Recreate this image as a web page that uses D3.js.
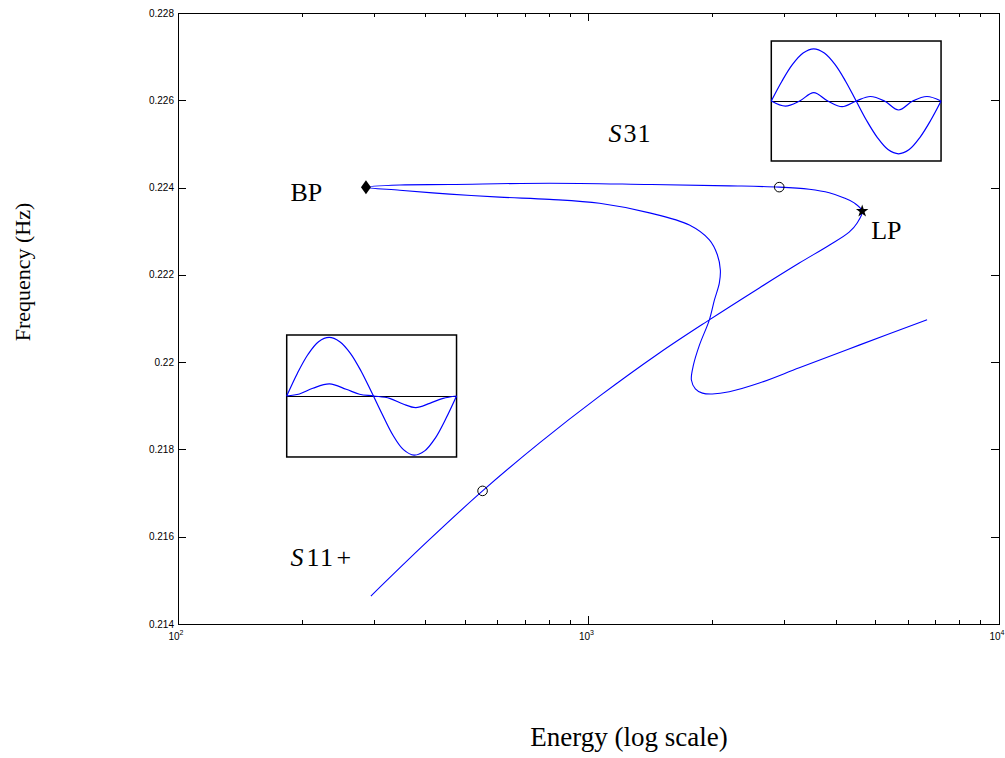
<!DOCTYPE html>
<html>
<head>
<meta charset="utf-8">
<script src="https://cdn.jsdelivr.net/npm/d3@7"></script>
<style>
  html, body { margin: 0; padding: 0; background: #fff; }
  svg { display: block; }
</style>
</head>
<body>
<svg id="chart" width="1005" height="758"></svg>
<script>
// ---------------- DATA ----------------
// continuation path (S11+ branch -> LP -> upper branch -> BP -> S31 lower branch)
const energy = [295, 404, 552, 760, 1064, 1488, 1948, 2607, 3262, 3858, 4315, 4513, 4642,
  4438, 4197, 3858, 3449, 2915, 2203, 1408, 804, 459, 347, 287,
  347, 459, 607, 804, 1064, 1408, 1761, 1970, 2060, 2095, 2083, 2026, 1970, 1863, 1801, 1781,
  1821, 1895, 2003, 2203, 2607, 3262, 4564, 6680];
const frequency = [0.21464, 0.21588, 0.21705, 0.21815, 0.21922, 0.22021, 0.22094, 0.22170, 0.22227, 0.22268, 0.22298, 0.22319, 0.22346,
  0.22365, 0.22376, 0.22388, 0.22396, 0.22401, 0.22404, 0.22407, 0.22410, 0.22407, 0.22406, 0.22401,
  0.22394, 0.22385, 0.22378, 0.22373, 0.22364, 0.22342, 0.22314, 0.22280, 0.22246, 0.22211, 0.22181, 0.22142, 0.22097, 0.22039, 0.21993, 0.21959,
  0.21939, 0.21929, 0.21927, 0.21932, 0.21952, 0.21987, 0.22039, 0.22097];

// special points
const circleEnergy = [2915, 552];
const circleFreq = [0.22401, 0.21705];
const bpPoint = [287, 0.22401];
const lpPoint = [4642, 0.22346];

// tick values / labels
const yTicks = [0.214, 0.216, 0.218, 0.22, 0.222, 0.224, 0.226, 0.228];
const yTickLabels = ["0.214", "0.216", "0.218", "0.22", "0.222", "0.224", "0.226", "0.228"];
const xMajor = [100, 1000, 10000];
const xMajorExp = ["2", "3", "4"];

// inset mode shapes (normalised amplitude vs normalised position)
const waveT = [0, 0.0625, 0.125, 0.1875, 0.25, 0.3125, 0.375, 0.4375, 0.5, 0.5625, 0.625, 0.6875, 0.75, 0.8125, 0.875, 0.9375, 1];
const s31Big = [0, 0.33, 0.61, 0.80, 0.87, 0.80, 0.61, 0.33, 0, -0.33, -0.61, -0.81, -0.88, -0.81, -0.61, -0.33, 0];
const s31SmallT = [0, 0.083, 0.167, 0.25, 0.333, 0.417, 0.5, 0.583, 0.667, 0.75, 0.833, 0.917, 1];
const s31Small = [0, -0.085, 0, 0.14, 0, -0.095, 0, 0.075, 0, -0.15, 0, 0.075, 0];
const s11Big = [0, 0.37, 0.68, 0.89, 0.96, 0.89, 0.70, 0.41, 0.06, -0.30, -0.64, -0.88, -0.97, -0.90, -0.69, -0.37, 0];
const s11SmallT = [0, 0.075, 0.154, 0.252, 0.35, 0.429, 0.512, 0.606, 0.685, 0.76, 0.842, 0.921, 1];
const s11Small = [0, 0.033, 0.126, 0.197, 0.11, 0.028, 0, -0.038, -0.131, -0.19, -0.12, -0.038, 0];

// ---------------- LAYOUT ----------------
const svg = d3.select("#chart");
svg.append("rect").attr("width", 1005).attr("height", 758).attr("fill", "#fff");

const L = 178, R = 999, T = 13, B = 624;
const x = d3.scaleLog().domain([100, 10000]).range([L, R]);
const y = d3.scaleLinear().domain([0.214, 0.228]).range([B, T]);

const blue = "#0000ff";
const serif = "'Liberation Serif', 'Times New Roman', serif";
const sans = "'Liberation Sans', Arial, Helvetica, sans-serif";

// frame
svg.append("rect").attr("x", L + 0.5).attr("y", T + 0.5).attr("width", R - L).attr("height", B - T)
  .attr("fill", "none").attr("stroke", "#000").attr("stroke-width", 1);

// y ticks (left + right, inward)
const majLen = 8, minLen = 4;
const gy = svg.append("g").attr("stroke", "#000").attr("stroke-width", 1);
yTicks.forEach(v => {
  const yy = Math.round(y(v)) + 0.5;
  gy.append("line").attr("x1", L).attr("x2", L + majLen).attr("y1", yy).attr("y2", yy);
  gy.append("line").attr("x1", R - majLen).attr("x2", R).attr("y1", yy).attr("y2", yy);
});
svg.append("g").selectAll("text").data(yTicks).join("text")
  .attr("x", L - 4).attr("y", d => y(d)).attr("dy", "0.35em")
  .attr("text-anchor", "end").attr("font-family", sans).attr("font-size", 10)
  .text((d, i) => yTickLabels[i]);

// x ticks (bottom + top, inward), major + minor
const gx = svg.append("g").attr("stroke", "#000").attr("stroke-width", 1);
const minorVals = [];
[100, 1000].forEach(dec => { for (let k = 2; k <= 9; k++) minorVals.push(dec * k); });
xMajor.forEach(v => {
  const xx = Math.round(x(v)) + 0.5;
  gx.append("line").attr("x1", xx).attr("x2", xx).attr("y1", B).attr("y2", B - majLen);
  gx.append("line").attr("x1", xx).attr("x2", xx).attr("y1", T).attr("y2", T + majLen);
});
minorVals.forEach(v => {
  const xx = Math.round(x(v)) + 0.5;
  gx.append("line").attr("x1", xx).attr("x2", xx).attr("y1", B).attr("y2", B - minLen);
  gx.append("line").attr("x1", xx).attr("x2", xx).attr("y1", T).attr("y2", T + minLen);
});
xMajor.forEach((v, i) => {
  const t = svg.append("text").attr("x", x(v) - 2).attr("y", B + 16)
    .attr("text-anchor", "middle").attr("font-family", sans).attr("font-size", 10);
  t.append("tspan").text("10");
  t.append("tspan").attr("font-size", 7).attr("dy", -5).text(xMajorExp[i]);
});

// axis titles
svg.append("text").attr("x", 629).attr("y", 746).attr("text-anchor", "middle")
  .attr("font-family", serif).attr("font-size", 27).text("Energy (log scale)");
svg.append("text").attr("transform", "translate(30,272) rotate(-90)").attr("text-anchor", "middle")
  .attr("font-family", serif).attr("font-size", 22).text("Frequency (Hz)");

// main curve
const line = d3.line().x((d, i) => x(energy[i])).y((d, i) => y(frequency[i])).curve(d3.curveCatmullRom.alpha(0.5));
svg.append("path").attr("d", line(energy)).attr("fill", "none").attr("stroke", blue).attr("stroke-width", 1.1);

// markers
circleEnergy.forEach((e, i) => {
  svg.append("circle").attr("cx", x(e)).attr("cy", y(circleFreq[i])).attr("r", 4.8)
    .attr("fill", "none").attr("stroke", "#000").attr("stroke-width", 1);
});
{
  const cx = x(bpPoint[0]), cy = y(bpPoint[1]);
  svg.append("path").attr("d", `M${cx},${cy - 7}L${cx + 5},${cy}L${cx},${cy + 7}L${cx - 5},${cy}Z`).attr("fill", "#000");
}
svg.append("path").attr("d", d3.symbol().type(d3.symbolStar).size(48)())
  .attr("transform", `translate(${x(lpPoint[0])},${y(lpPoint[1])})`).attr("fill", "#000");

// labels
svg.append("text").attr("x", x(188)).attr("y", y(0.223692)).attr("font-family", serif).attr("font-size", 26).text("BP");
svg.append("text").attr("x", x(4883)).attr("y", y(0.222822)).attr("font-family", serif).attr("font-size", 26).text("LP");
{
  const t = svg.append("text").attr("x", x(1119)).attr("y", y(0.225044)).attr("font-family", serif).attr("font-size", 26);
  t.append("tspan").attr("font-style", "italic").text("S");
  t.append("tspan").attr("dx", 2).attr("letter-spacing", 1).text("31");
  const t2 = svg.append("text").attr("x", x(188)).attr("y", y(0.215329)).attr("font-family", serif).attr("font-size", 26);
  t2.append("tspan").attr("font-style", "italic").text("S");
  t2.append("tspan").attr("dx", 3).attr("letter-spacing", 1.5).text("11");
  t2.append("tspan").attr("dx", 2).text("+");
}

// insets
function inset(e0, e1, f0, f1, bigT, big, smallT, small) {
  const x0 = x(e0), x1 = x(e1), yTop = y(f1), yBot = y(f0);
  const ix = d3.scaleLinear().domain([0, 1]).range([x0, x1]);
  const iy = d3.scaleLinear().domain([-1, 1]).range([yBot, yTop]);
  const g = svg.append("g");
  g.append("rect").attr("x", x0).attr("y", yTop).attr("width", x1 - x0).attr("height", yBot - yTop)
    .attr("fill", "#fff").attr("stroke", "#000").attr("stroke-width", 1.5);
  const zy = Math.round(iy(0)) + 0.5;
  g.append("line").attr("x1", x0).attr("x2", x1).attr("y1", zy).attr("y2", zy).attr("stroke", "#000").attr("stroke-width", 1);
  const lg = (ts, vs) => d3.line().x((d, i) => ix(ts[i])).y((d, i) => iy(vs[i])).curve(d3.curveCatmullRom.alpha(0.5))(ts);
  g.append("path").attr("d", lg(bigT, big)).attr("fill", "none").attr("stroke", blue).attr("stroke-width", 1.2);
  g.append("path").attr("d", lg(smallT, small)).attr("fill", "none").attr("stroke", blue).attr("stroke-width", 1.2);
}
inset(2788, 7225, 0.224609, 0.227358, waveT, s31Big, s31SmallT, s31Small);
inset(184, 477, 0.217827, 0.220622, waveT, s11Big, s11SmallT, s11Small);
</script>
</body>
</html>
